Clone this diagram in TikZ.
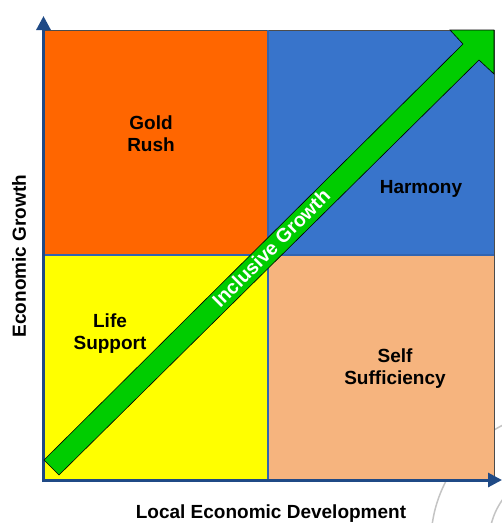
\documentclass[tikz,border=0pt]{standalone}
\usepackage{fontspec}
\setmainfont{Liberation Sans}
\usetikzlibrary{arrows.meta}
\definecolor{qorange}{HTML}{FF6600}
\definecolor{qblue}{HTML}{3874CB}
\definecolor{qyellow}{HTML}{FFFF00}
\definecolor{qpeach}{HTML}{F6B47E}
\definecolor{qgreen}{HTML}{00CC00}
\definecolor{axisblue}{HTML}{1F4A86}
\definecolor{divblue}{HTML}{3264B0}
\definecolor{arcgrey}{HTML}{C4C4C4}
\tikzset{
  lbl/.style={font=\bfseries\fontsize{19}{22}\selectfont, align=center, text=black, inner sep=0pt},
  axisline/.style={draw=axisblue, line width=3pt, -{Triangle[width=14pt,length=14pt]}},
  divider/.style={draw=divblue, line width=2.6pt},
  edge/.style={draw=black!70, line width=1pt},
  bgarc/.style={draw=arcgrey, line width=1.5pt}
}
\begin{document}
\begin{tikzpicture}[x=1pt,y=-1pt]
\useasboundingbox (0,0) rectangle (502,523);
% decorative background arcs
\begin{scope}
\clip (0,0) rectangle (502,523);
\draw[bgarc] (562,542) circle[radius=131];
\draw[bgarc] (562,542) circle[radius=73];
\end{scope}
% quadrants
\fill[qorange] (44,30) rectangle (268,255);
\fill[qblue] (268,30) rectangle (494,255);
\fill[qyellow] (44,255) rectangle (268,480);
\fill[qpeach] (268,255) rectangle (494,480);
% corners
\coordinate (tl) at (44,30);
\coordinate (tr) at (494,30);
\coordinate (br) at (494,480);
\coordinate (mt) at (268,30);
\coordinate (mb) at (268,480);
\coordinate (ml) at (44,255);
\coordinate (mr) at (494,255);
\draw[edge] (tl) -- (tr) -- (br);
\draw[divider] (mt) -- (mb);
\draw[divider] (ml) -- (mr);
% axes
\coordinate (ytail) at (43.5,482);
\coordinate (ytip) at (43.5,16);
\coordinate (xtail) at (42,480);
\coordinate (xtip) at (502,480);
\draw[axisline] (ytail) -- (ytip);
\draw[axisline] (xtail) -- (xtip);
% green arrow
\filldraw[fill=qgreen, draw=black, line width=0.6pt]
  (44,460) -- (59,475) -- (479,60) -- (494,74) -- (494,30) -- (450,30) -- (463,44) -- cycle;
\node[font=\bfseries\fontsize{19.5}{22}\selectfont, text=white, rotate=45, inner sep=0pt] (ig) at (271,248) {Inclusive Growth};
% labels
\node[lbl] (gold) at (151,134) {Gold\\Rush};
\node[lbl] (harmony) at (421,189) {Harmony};
\node[lbl] (life) at (110,334) {Life\\Support};
\node[lbl] (self) at (395,369) {Self\\Sufficiency};
\node[lbl, rotate=90] (ylab) at (19,256) {Economic Growth};
\node[lbl] (xlab) at (271,514) {Local Economic Development};
\end{tikzpicture}
\end{document}
